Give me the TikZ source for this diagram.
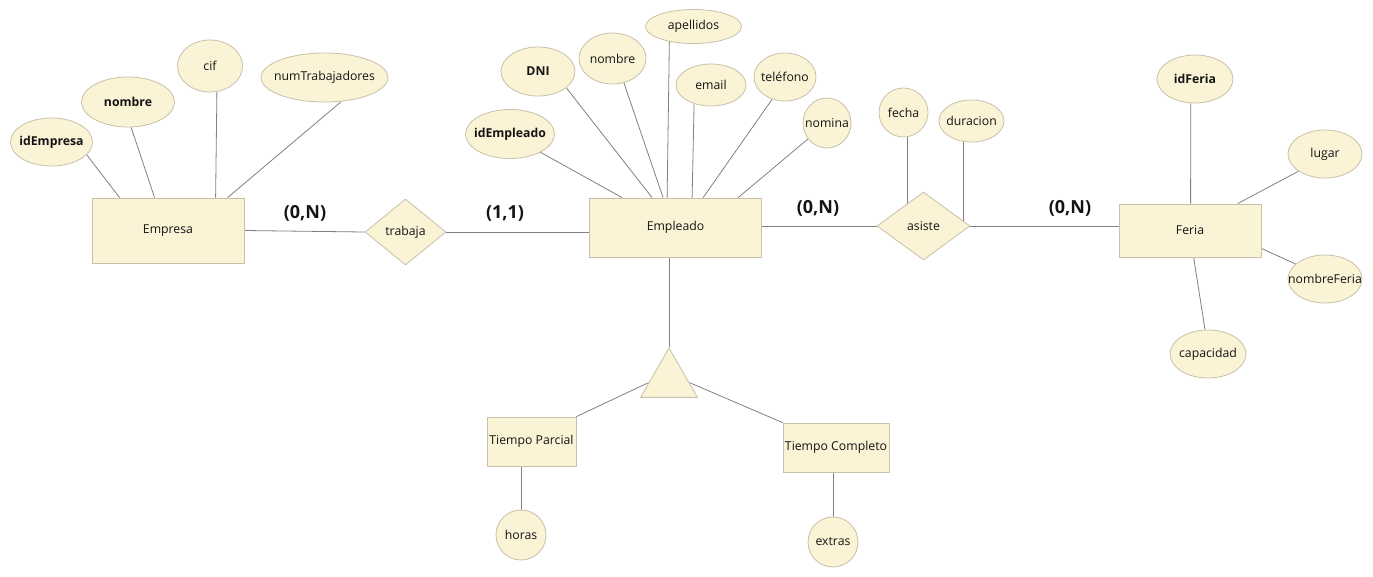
\documentclass[tikz,border=0pt]{standalone}
\usepackage{fontspec}
\setmainfont{Open Sans}
\usepackage{tikz}
\usetikzlibrary{arrows.meta,positioning,shapes.geometric,calc,backgrounds}
\definecolor{erfill}{RGB}{250,243,214}
\definecolor{erdraw}{RGB}{200,192,168}
\definecolor{erline}{RGB}{128,128,128}
\definecolor{ertext}{RGB}{20,20,20}

\begin{document}
\begin{tikzpicture}[x=0.75pt, y=-0.75pt, font=\fontsize{9.2}{11}\selectfont, text=ertext]
\tikzstyle{erbox}=[draw=erdraw, fill=erfill, line width=0.6pt, inner sep=0pt,
  execute at begin node={\hbox to 0pt\bgroup\hss}, execute at end node={\hss\egroup}]
\tikzstyle{entity}=[erbox, rectangle]
\tikzstyle{attr}=[erbox, ellipse]
\tikzstyle{rel}=[erbox, diamond]
\tikzstyle{card}=[font=\fontsize{13.5}{15}\selectfont\bfseries]
\tikzstyle{link}=[draw=erline, line width=0.6pt]
\useasboundingbox (0,0) rectangle (1373,576);
% entities and relations
\node[entity, minimum width=114pt, minimum height=48.75pt] (empresa) at (168,230.5) {Empresa};
\node[rel, minimum width=60.75pt, minimum height=49.5pt] (trabaja) at (405.5,232) {trabaja};
\node[entity, minimum width=129pt, minimum height=44.25pt] (empleado) at (675.5,227.5) {Empleado};
\node[rel, minimum width=69.75pt, minimum height=51pt] (asiste) at (923.5,226) {asiste};
\node[entity, minimum width=106.5pt, minimum height=39.75pt] (feria) at (1190,230.5) {Feria};
\node[erbox, regular polygon, regular polygon sides=3, minimum size=49.35pt] (isa) at (669,380.9) {};
\node[entity, minimum width=66.75pt, minimum height=36.75pt] (parcial) at (531.5,441.5) {Tiempo Parcial};
\node[entity, minimum width=79.5pt, minimum height=36.75pt] (completo) at (836,447.5) {Tiempo Completo};
% attributes of Empresa
\node[attr, minimum width=61.5pt, minimum height=36pt] (idemp) at (51.5,142) {\bfseries idEmpresa};
\node[attr, minimum width=69.75pt, minimum height=37.5pt] (nomemp) at (128,102) {\bfseries nombre};
\node[attr, minimum width=48.75pt, minimum height=39pt] (cif) at (210,66) {cif};
\node[attr, minimum width=95.25pt, minimum height=36.75pt] (numtrab) at (324.5,77.5) {numTrabajadores};
% attributes of Empleado
\node[attr, minimum width=66.75pt, minimum height=36.75pt] (idempl) at (510,134) {\bfseries idEmpleado};
\node[attr, minimum width=55.5pt, minimum height=36.75pt] (dni) at (538,71.5) {\bfseries DNI};
\node[attr, minimum width=50.25pt, minimum height=38.25pt] (nomempl) at (612.5,58.5) {nombre};
\node[attr, minimum width=72pt, minimum height=25.5pt] (apell) at (693.5,26.5) {apellidos};
\node[attr, minimum width=52.5pt, minimum height=31.5pt] (email) at (711,85) {email};
\node[attr, minimum width=46.5pt, minimum height=36pt] (telef) at (785,77) {teléfono};
\node[attr, minimum width=36pt, minimum height=37.5pt] (nomina) at (827,123) {nomina};
% attributes of asiste
\node[attr, minimum width=36.75pt, minimum height=36.75pt] (fecha) at (903.5,112.5) {fecha};
\node[attr, minimum width=48.75pt, minimum height=31.5pt] (durac) at (971.5,121) {duracion};
% attributes of Feria
\node[attr, minimum width=57pt, minimum height=36pt] (idferia) at (1195,79) {\bfseries idFeria};
\node[attr, minimum width=55.5pt, minimum height=36pt] (lugar) at (1325,154) {lugar};
\node[attr, minimum width=55.5pt, minimum height=36pt] (nomferia) at (1325,279) {nombreFeria};
\node[attr, minimum width=57pt, minimum height=36pt] (capac) at (1208,354) {capacidad};
% attributes of the subtypes
\node[attr, minimum width=37.5pt, minimum height=37.5pt] (horas) at (521,535) {horas};
\node[attr, minimum width=37.5pt, minimum height=37.5pt] (extras) at (833,542) {extras};
% cardinalities
\node[card] (c1) at (305,213) {(0,N)};
\node[card] (c2) at (505,213) {(1,1)};
\node[card] (c3) at (818,208) {(0,N)};
\node[card] (c4) at (1070,208) {(0,N)};
\begin{pgfonlayer}{background}
\draw[link] (empresa.east) -- (trabaja.west);
\draw[link] (trabaja.east) -- (trabaja.east -| empleado.west);
\draw[link] (asiste.west -| empleado.east) -- (asiste.west);
\draw[link] (asiste.east) -- (asiste.east -| feria.west);
\draw[link] (isa.corner 1 |- empleado.south) -- (isa.corner 1);
\draw[link] (parcial.north east) -- ($(isa.corner 1)!0.7!(isa.corner 2)$);
\draw[link] (completo.north west) -- ($(isa.corner 1)!0.7!(isa.corner 3)$);
\draw[link] (horas.north) -- (horas.north |- parcial.south);
\draw[link] (extras.north) -- (extras.north |- completo.south);
\draw[link] (idemp.340) -- ($(empresa.north west)+(28,0)$);
\draw[link] (nomemp.277) -- ($(empresa.north west)+(63,0)$);
\draw[link] (cif.285) -- ($(empresa.north west)+(124,0)$);
\draw[link] (numtrab.305) -- ($(empresa.north west)+(136,0)$);
\draw[link] (idempl.329) -- ($(empleado.north west)+(33,0)$);
\draw[link] (dni.330) -- ($(empleado.north west)+(63,0)$);
\draw[link] (nomempl.295) -- ($(empleado.north west)+(74,0)$);
\draw[link] (apell.212) -- ($(empleado.north west)+(78,0)$);
\draw[link] (email.228) -- ($(empleado.north west)+(103,0)$);
\draw[link] (telef.240) -- ($(empleado.north west)+(114,0)$);
\draw[link] (nomina.220) -- ($(empleado.north west)+(149,0)$);
\draw[link] (fecha.280) -- (fecha.280 |- asiste.center);
\draw[link] (durac.249) -- (durac.249 |- asiste.center);
\draw[link] (idferia.260) -- ($(feria.north west)+(72,0)$);
\draw[link] (lugar.213) -- ($(feria.north west)+(119,0)$);
\draw[link] (nomferia.153) -- ($(feria.south east)+(0,-9)$);
\draw[link] (capac.97) -- ($(feria.south west)+(75,0)$);
\end{pgfonlayer}
\end{tikzpicture}
\end{document}
